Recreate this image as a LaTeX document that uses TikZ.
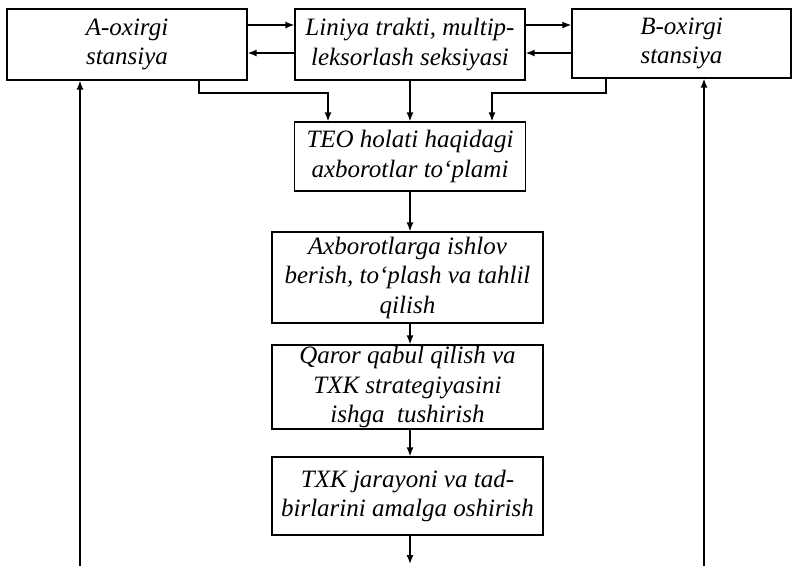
\documentclass[tikz,border=0pt]{standalone}
\usepackage{fontspec}
\setmainfont{Liberation Serif}
\usetikzlibrary{arrows.meta}
\begin{document}
\begin{tikzpicture}[x=1pt,y=-1pt,
  box/.style={draw,line width=1.3pt,rectangle,inner sep=0pt,align=center,
    font=\fontsize{25}{29.5}\selectfont\itshape},
  arr/.style={line width=1.4pt,-{Latex[length=9pt,width=7pt]}}]
\useasboundingbox (0,0) rectangle (798,566);
\node[box,minimum width=240pt,minimum height=71pt] (A) at (127,44.5) {A-oxirgi\\stansiya};
\node[box,minimum width=230pt,minimum height=71pt] (L) at (410,44.5) {Liniya trakti, multip-\\leksorlash seksiyasi};
\node[box,minimum width=219pt,minimum height=69pt] (B) at (681.5,43.5) {B-oxirgi\\stansiya};
\node[box,minimum width=231pt,minimum height=69pt] (TEO) at (410,156.5) {TEO holati haqidagi\\axborotlar to‘plami};
\node[box,minimum width=271pt,minimum height=91pt] (AX) at (407.5,277.5) {Axborotlarga ishlov\\berish, to‘plash va tahlil\\qilish};
\node[box,minimum width=271pt,minimum height=84pt] (Q) at (407.5,387) {Qaror qabul qilish va\\TXK strategiyasini\\ishga\ \ tushirish};
\node[box,minimum width=271pt,minimum height=78pt] (T) at (407.5,496) {TXK jarayoni va tad-\\birlarini amalga oshirish};
\coordinate (ya) at (0,25);
\coordinate (yb) at (0,53);
\coordinate (yh) at (0,93);
\coordinate (xa) at (199,0);
\coordinate (xt1) at (328,0);
\coordinate (xt3) at (492,0);
\coordinate (xb) at (606,0);
\coordinate (bl) at (80,566);
\coordinate (br) at (704,566);
\coordinate (cx) at (410,0);
\coordinate (endc) at (410,564);
\draw[arr] (A.east |- ya) -- (L.west |- ya);
\draw[arr] (L.west |- yb) -- (A.east |- yb);
\draw[arr] (L.east |- ya) -- (B.west |- ya);
\draw[arr] (B.west |- yb) -- (L.east |- yb);
\draw[arr] (A.south -| xa) |- (yh -| xt1) -- (TEO.north -| xt1);
\draw[arr] (L.south -| cx) -- (TEO.north -| cx);
\draw[arr] (B.south -| xb) |- (yh -| xt3) -- (TEO.north -| xt3);
\draw[arr] (TEO.south -| cx) -- (AX.north -| cx);
\draw[arr] (AX.south -| cx) -- (Q.north -| cx);
\draw[arr] (Q.south -| cx) -- (T.north -| cx);
\draw[arr] (T.south -| cx) -- (endc);
\draw[arr] (bl) -- (A.south -| bl);
\draw[arr] (br) -- (B.south -| br);
\end{tikzpicture}
\end{document}
